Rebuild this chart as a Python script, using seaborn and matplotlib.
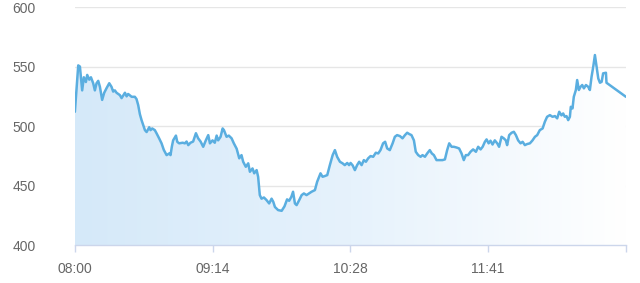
import numpy as np
import pandas as pd
import matplotlib
matplotlib.use("Agg")
import matplotlib.pyplot as plt
import seaborn as sns
from matplotlib.colors import LinearSegmentedColormap

# minutes after 08:00
minutes = [0.0, 1.8, 2.7, 3.9, 4.8, 5.9, 6.6, 7.7, 8.6, 9.8, 10.7, 11.6, 12.5, 13.4, 14.6, 15.7,
           17.0, 18.4, 19.6, 20.5, 21.4, 22.3, 24.1, 25.0, 26.8, 27.7, 28.5, 30.4, 32.1, 33.0,
           33.9, 34.8, 35.7, 37.5, 38.4, 39.8, 40.5, 41.4, 42.8, 43.7, 45.1, 46.4, 47.6, 49.1,
           50.5, 51.2, 51.9, 52.6, 54.1, 54.8, 55.8, 57.7, 58.9, 59.8, 60.7, 61.9, 63.3, 64.8,
           66.0, 67.3, 68.7, 70.1, 71.4, 72.3, 73.7, 74.9, 75.9, 76.7, 78.0, 79.1, 79.8, 81.2,
           82.4, 83.9, 85.1, 86.6, 88.0, 89.2, 90.1, 91.5, 92.8, 93.7, 95.1, 96.0, 97.3, 98.1,
           99.0, 99.9, 101.2, 102.6, 104.0, 105.3, 106.2, 107.1, 108.8, 110.7, 112.2, 113.6,
           114.7, 115.9, 116.8, 117.8, 118.7, 120.1, 121.4, 122.6, 124.0, 125.4, 126.7, 128.5,
           129.7, 130.8, 131.5, 132.6, 133.8, 135.1, 136.5, 138.0, 139.2, 140.4, 141.9, 143.3,
           144.5, 145.8, 146.8, 147.6, 148.7, 149.9, 151.1, 152.2, 153.5, 154.7, 155.8, 157.0,
           158.3, 159.7, 161.1, 162.4, 163.6, 165.0, 166.1, 167.2, 168.6, 170.1, 171.3, 172.5,
           174.0, 175.4, 176.7, 177.9, 179.0, 180.2, 181.5, 182.5, 183.8, 185.1, 186.1, 187.4,
           188.6, 190.0, 191.1, 192.2, 193.6, 195.0, 196.8, 198.1, 199.3, 200.4, 201.7, 202.9,
           204.3, 205.7, 207.0, 208.2, 209.3, 210.5, 211.8, 213.2, 214.7, 215.9, 217.2, 218.3,
           219.5, 220.4, 221.5, 222.5, 223.6, 224.8, 226.1, 227.1, 228.4, 229.6, 230.7, 231.4,
           232.5, 233.8, 235.0, 236.1, 237.3, 238.6, 239.7, 240.9, 242.1, 243.6, 245.0, 246.3,
           247.5, 248.9, 250.4, 251.6, 252.8, 254.3, 255.7, 257.0, 258.2, 259.3, 260.5, 261.4,
           262.3, 263.2, 264.1, 265.0, 265.5, 266.4, 267.1, 268.2, 268.9, 269.8, 270.7, 271.6,
           272.5, 273.6, 274.8, 275.7, 276.6, 277.5, 278.4, 279.3, 280.2, 281.1, 282.0, 282.8,
           284.3, 284.6, 295.0]
values = [512, 551, 550, 530, 541, 537, 543, 539, 541, 536, 530, 536, 538, 533, 522, 528,
          532, 536, 533, 529, 530, 528, 526, 523.5, 528, 525, 527, 524.6, 524.6, 522.7,
          517.6, 510, 505, 496.6, 495, 499, 496.6, 498, 496.6, 494, 489.7, 485.5, 480, 475.6,
          477, 475.6, 482.6, 488, 492, 486.8, 485.5, 486, 485.5, 487, 484, 486, 487, 494,
          489.7, 487, 482.6, 488, 492.4, 485.5, 488, 486, 492, 488, 491, 498, 496.6, 491,
          492, 489.7, 485.5, 481, 472.9, 475.6, 470, 465.8, 468.7, 461.6, 464.4, 460.3, 463, 457.4,
          442, 439, 440, 437.8, 435, 439, 436.4, 432, 429.4, 428.8, 432.5, 438.4,
          437.2, 440.6, 444.8, 435, 433.6, 437.8, 442, 443.4, 442, 443.4, 444.8, 446.2,
          453.2, 457.4, 460.3, 457.4, 458, 458.8, 467.2, 475.6, 479.8, 474.2, 470, 468.7,
          467.2, 469, 467.2, 469, 467, 463, 467.2, 470, 467.2, 471.4, 470, 472.9,
          474.8, 474.2, 477.6, 477, 479.8, 485.5, 486.8, 481.2, 479.8, 485.5, 491, 492.4,
          491.6, 489.7, 492.4, 494.4, 493.3, 492.4, 488, 478.4, 475.6, 474.2, 475.6, 474.2,
          477, 479.8, 477, 475.6, 471.4, 471.4, 471.4, 472, 479.8, 485.5, 482.6, 482.6,
          482, 481.2, 477, 471.4, 475.6, 475.6, 478.4, 480.4, 478.4, 482.6, 480.4, 482.6,
          486.8, 488.8, 485.5, 487.7, 484.5, 488, 485.5, 482.6, 491, 489.7, 488, 484,
          492.4, 494.4, 495.2, 492.4, 488, 485.5, 486.8, 484, 484.9, 485.5, 488, 491,
          492.4, 496.6, 498, 503.6, 507.8, 509.2, 507.8, 508.4, 506.5, 512, 509, 510.6,
          507.8, 508.4, 505, 507.8, 516.2, 514.8, 524.6, 530.3, 538.7, 530.3, 533, 534.5,
          531.7, 534.5, 533, 530.3, 541.4, 549.8, 559.7, 549.8, 540, 536.4, 537.2, 544.3,
          544.8, 536.4, 524.6]

tick_minutes = [0, 73.75, 147.5, 221.25, 295]
tick_labels = ["08:00", "09:14", "10:28", "11:41", ""]
y_ticks = [400, 450, 500, 550, 600]

df = pd.DataFrame({"minute": minutes, "value": values})

sns.set_theme(style="white")
plt.rcParams["font.family"] = ["Liberation Sans", "DejaVu Sans"]

fig = plt.figure(figsize=(6.4, 2.83), dpi=100)
ax = fig.add_axes([0.117, 0.134, 0.861, 0.841])

# gradient fill under the line
poly = ax.fill_between(df["minute"], df["value"], 400, color="none", lw=0)
cmap = LinearSegmentedColormap.from_list("g", ["#d5e9f9", "#e6f2fc", "#ffffff"])
grad = np.linspace(0, 1, 256).reshape(1, -1)
im = ax.imshow(grad, cmap=cmap, aspect="auto", extent=[0, 295, 400, 600],
               origin="lower", zorder=1)
paths = poly.get_paths()
im.set_clip_path(paths[0], transform=ax.transData)

sns.lineplot(data=df, x="minute", y="value", ax=ax, color="#5aaee0", lw=1.8,
             zorder=3)

ax.set_xlim(0, 295)
ax.set_ylim(400, 600)
ax.set_yticks(y_ticks)
ax.set_xticks(tick_minutes)
ax.set_xticklabels(tick_labels)
ax.set_xlabel("")
ax.set_ylabel("")
ax.yaxis.grid(True, color="#e6e6e6", lw=1)
ax.xaxis.grid(False)
for s in ["left", "right", "top"]:
    ax.spines[s].set_visible(False)
ax.spines["bottom"].set_color("#ccd6eb")
ax.spines["bottom"].set_linewidth(1)
ax.tick_params(axis="y", length=0, pad=28, labelsize=10, labelcolor="#666666")
ax.tick_params(axis="x", length=5, width=1, color="#ccd6eb", pad=7,
               labelsize=10, labelcolor="#666666", bottom=True)
ax.set_axisbelow(True)

fig.savefig("out.png", dpi=100)
